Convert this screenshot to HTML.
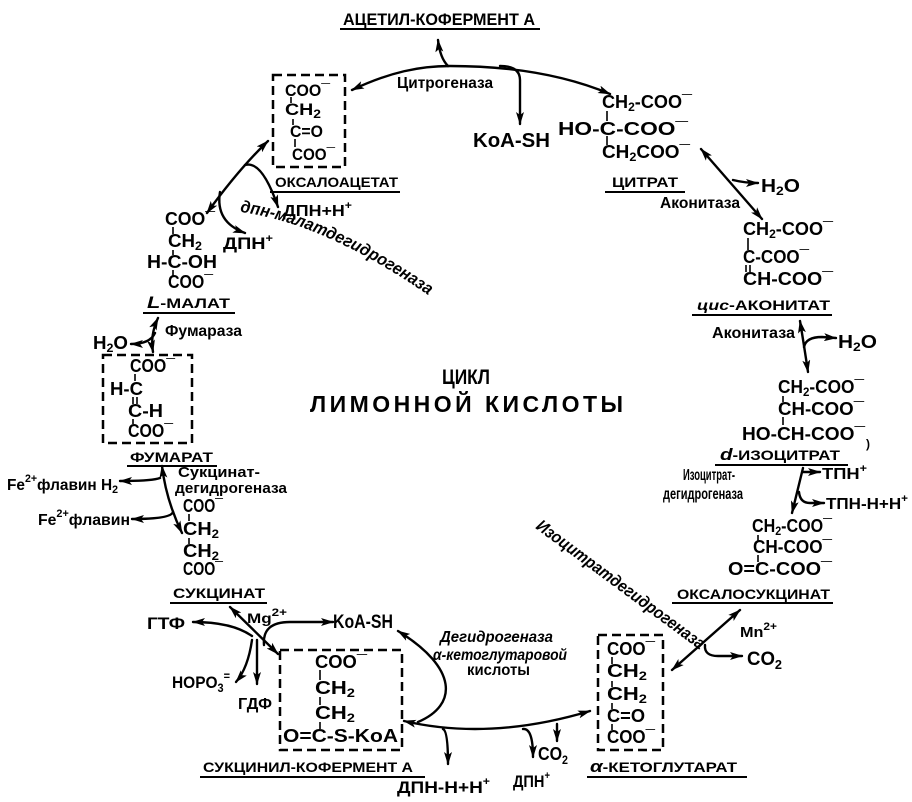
<!DOCTYPE html>
<html><head><meta charset="utf-8"><style>
html,body{margin:0;padding:0;background:#fff}
svg{display:block}
text{font-family:"Liberation Sans","DejaVu Sans",sans-serif;font-weight:bold;fill:#000}
.a{fill:none;stroke:#000;stroke-width:2.4;stroke-linecap:round}
.b{fill:none;stroke:#000;stroke-width:2.5;stroke-dasharray:9 5}
.u{stroke:#000;stroke-width:2}
.t{stroke:#000;stroke-width:1.6}
.i{font-style:italic}
</style></head><body>
<svg width="912" height="802" viewBox="0 0 912 802" xmlns="http://www.w3.org/2000/svg">
<defs><marker id="m" viewBox="0 0 13 8" refX="12" refY="4" markerWidth="13" markerHeight="8" markerUnits="userSpaceOnUse" orient="auto-start-reverse"><path d="M0,0 L13,4 L0,8 L3,4z" fill="#000"/></marker></defs>

<!-- TOP -->
<text x="343" y="25" font-size="17" textLength="192" lengthAdjust="spacingAndGlyphs">АЦЕТИЛ-КОФЕРМЕНТ А</text>
<line class="u" x1="340" y1="29" x2="540" y2="29"/>
<path class="a" d="M352,90 C390,72 420,66 450,66 C505,66 560,73 610,94" marker-start="url(#m)" marker-end="url(#m)"/>
<path class="a" d="M448,66 Q440,58 438,40" marker-end="url(#m)"/>
<path class="a" d="M500,66 Q520,66 520,80 L520,124" marker-end="url(#m)"/>
<text x="397" y="88" font-size="16" textLength="96" lengthAdjust="spacingAndGlyphs">Цитрогеназа</text>
<text x="473" y="147" font-size="20" textLength="77" lengthAdjust="spacingAndGlyphs">KoA-SH</text>

<!-- OXALOACETATE -->
<rect class="b" x="273" y="75" width="72" height="92"/>
<text x="285" y="96" font-size="17" textLength="45" lengthAdjust="spacingAndGlyphs">COO¯</text>
<text x="285" y="115" font-size="17" textLength="36" lengthAdjust="spacingAndGlyphs">CH<tspan font-size="12" dy="3">2</tspan></text>
<text x="290" y="137" font-size="17" textLength="33" lengthAdjust="spacingAndGlyphs">C=O</text>
<text x="292" y="160" font-size="17" textLength="43" lengthAdjust="spacingAndGlyphs">COO¯</text>
<line class="t" x1="291" y1="97" x2="291" y2="103"/>
<line class="t" x1="293" y1="119" x2="293" y2="125"/>
<line class="t" x1="295" y1="139" x2="295" y2="147"/>
<text x="275" y="187" font-size="14" textLength="123" lengthAdjust="spacingAndGlyphs">ОКСАЛОАЦЕТАТ</text>
<line class="u" x1="270" y1="192" x2="400" y2="192"/>

<!-- CITRATE -->
<text x="602" y="108" font-size="18" textLength="90" lengthAdjust="spacingAndGlyphs">CH<tspan font-size="12" dy="3">2</tspan><tspan dy="-3">-COO¯</tspan></text>
<text x="558" y="135" font-size="18" textLength="130" lengthAdjust="spacingAndGlyphs">HO-C-COO¯</text>
<text x="602" y="158" font-size="18" textLength="88" lengthAdjust="spacingAndGlyphs">CH<tspan font-size="12" dy="3">2</tspan><tspan dy="-3">COO¯</tspan></text>
<line class="t" x1="607" y1="111" x2="607" y2="121"/>
<line class="t" x1="607" y1="136" x2="607" y2="145"/>
<text x="612" y="187" font-size="14" textLength="66" lengthAdjust="spacingAndGlyphs">ЦИТРАТ</text>
<line class="u" x1="605" y1="192" x2="685" y2="192"/>

<!-- ACONITASE 1 -->
<path class="a" d="M701,149 L762,219" marker-start="url(#m)" marker-end="url(#m)"/>
<path class="a" d="M733,180 Q745,183 758,183" marker-end="url(#m)"/>
<text x="761" y="192" font-size="18" textLength="39" lengthAdjust="spacingAndGlyphs">H<tspan font-size="12" dy="3">2</tspan><tspan dy="-3">O</tspan></text>
<text x="660" y="208" font-size="16" textLength="80" lengthAdjust="spacingAndGlyphs">Аконитаза</text>

<!-- CIS-ACONITATE -->
<text x="743" y="235" font-size="18" textLength="90" lengthAdjust="spacingAndGlyphs">CH<tspan font-size="12" dy="3">2</tspan><tspan dy="-3">-COO¯</tspan></text>
<text x="743" y="263" font-size="18" textLength="66" lengthAdjust="spacingAndGlyphs">C-COO¯</text>
<text x="743" y="285" font-size="18" textLength="90" lengthAdjust="spacingAndGlyphs">CH-COO¯</text>
<line class="t" x1="748" y1="238" x2="748" y2="250"/>
<line class="t" x1="746" y1="265" x2="746" y2="272"/>
<line class="t" x1="750" y1="265" x2="750" y2="272"/>
<text x="697" y="310" font-size="14" textLength="133" lengthAdjust="spacingAndGlyphs"><tspan class="i">цис</tspan>-АКОНИТАТ</text>
<line class="u" x1="692" y1="315" x2="832" y2="315"/>

<!-- ACONITASE 2 -->
<text x="712" y="338" font-size="16" textLength="83" lengthAdjust="spacingAndGlyphs">Аконитаза</text>
<path class="a" d="M800,321 Q804,345 808,372" marker-start="url(#m)" marker-end="url(#m)"/>
<path class="a" d="M804,347 Q806,337 822,337 L836,338" marker-end="url(#m)"/>
<text x="838" y="348" font-size="18" textLength="39" lengthAdjust="spacingAndGlyphs">H<tspan font-size="12" dy="3">2</tspan><tspan dy="-3">O</tspan></text>

<!-- ISOCITRATE -->
<text x="778" y="393" font-size="18" textLength="86" lengthAdjust="spacingAndGlyphs">CH<tspan font-size="12" dy="3">2</tspan><tspan dy="-3">-COO¯</tspan></text>
<text x="778" y="415" font-size="18" textLength="86" lengthAdjust="spacingAndGlyphs">CH-COO¯</text>
<text x="742" y="440" font-size="18" textLength="123" lengthAdjust="spacingAndGlyphs">HO-CH-COO¯</text>
<line class="t" x1="783" y1="396" x2="783" y2="402"/>
<line class="t" x1="783" y1="417" x2="783" y2="425"/>
<text x="866" y="448" font-size="12">)</text>
<text x="720" y="460" font-size="14" textLength="120" lengthAdjust="spacingAndGlyphs"><tspan class="i" font-size="17">d</tspan>-ИЗОЦИТРАТ</text>
<line class="u" x1="715" y1="465" x2="848" y2="465"/>

<!-- ISOCITRATE DH -->
<text x="683" y="480" font-size="16" textLength="52" lengthAdjust="spacingAndGlyphs">Изоцитрат-</text>
<text x="663" y="499" font-size="16" textLength="80" lengthAdjust="spacingAndGlyphs">дегидрогеназа</text>
<path class="a" d="M803,468 L792,513" marker-end="url(#m)"/>
<path class="a" d="M803,472 L820,472" marker-end="url(#m)"/>
<text x="822" y="479" font-size="16" textLength="45" lengthAdjust="spacingAndGlyphs">ТПН<tspan font-size="11" dy="-7">+</tspan></text>
<path class="a" d="M799,492 Q800,503 810,503 L824,503" marker-end="url(#m)"/>
<text x="826" y="509" font-size="16" textLength="82" lengthAdjust="spacingAndGlyphs">ТПН-Н+Н<tspan font-size="11" dy="-7">+</tspan></text>

<!-- OXALOSUCCINATE -->
<text x="752" y="532" font-size="18" textLength="80" lengthAdjust="spacingAndGlyphs">CH<tspan font-size="12" dy="3">2</tspan><tspan dy="-3">-COO¯</tspan></text>
<text x="753" y="553" font-size="18" textLength="79" lengthAdjust="spacingAndGlyphs">CH-COO¯</text>
<text x="728" y="575" font-size="18" textLength="104" lengthAdjust="spacingAndGlyphs">O=C-COO¯</text>
<line class="t" x1="758" y1="535" x2="758" y2="541"/>
<line class="t" x1="758" y1="555" x2="758" y2="562"/>
<text x="677" y="599" font-size="14" textLength="153" lengthAdjust="spacingAndGlyphs">ОКСАЛОСУКЦИНАТ</text>
<line class="u" x1="672" y1="603" x2="833" y2="603"/>

<!-- DIAGONAL ISOCITRATE DH -->
<text class="i" font-size="17" transform="translate(535,528) rotate(36.5)" textLength="205" lengthAdjust="spacingAndGlyphs">Изоцитратдегидрогеназа</text>

<path class="a" d="M740,610 L672,670" marker-start="url(#m)" marker-end="url(#m)"/>
<path class="a" d="M705,645 Q704,656 718,656 L742,656" marker-end="url(#m)"/>
<text x="740" y="637" font-size="15" textLength="37" lengthAdjust="spacingAndGlyphs">Mn<tspan font-size="11" dy="-7">2+</tspan></text>
<text x="747" y="665" font-size="19" textLength="35" lengthAdjust="spacingAndGlyphs">CO<tspan font-size="13" dy="4">2</tspan></text>

<!-- ALPHA-KG -->
<rect class="b" x="598" y="635" width="65" height="115"/>
<text x="607" y="655" font-size="18" textLength="48" lengthAdjust="spacingAndGlyphs">COO¯</text>
<text x="607" y="677" font-size="18" textLength="40" lengthAdjust="spacingAndGlyphs">CH<tspan font-size="12" dy="3">2</tspan></text>
<text x="607" y="700" font-size="18" textLength="40" lengthAdjust="spacingAndGlyphs">CH<tspan font-size="12" dy="3">2</tspan></text>
<text x="607" y="722" font-size="18" textLength="38" lengthAdjust="spacingAndGlyphs">C=O</text>
<text x="607" y="743" font-size="18" textLength="48" lengthAdjust="spacingAndGlyphs">COO¯</text>
<line class="t" x1="612" y1="657" x2="612" y2="664"/>
<line class="t" x1="612" y1="681" x2="612" y2="687"/>
<line class="t" x1="612" y1="703" x2="612" y2="709"/>
<line class="t" x1="612" y1="724" x2="612" y2="730"/>
<text x="590" y="772" font-size="14" textLength="147" lengthAdjust="spacingAndGlyphs"><tspan class="i" font-size="17">α</tspan>-КЕТОГЛУТАРАТ</text>
<line class="u" x1="587" y1="777" x2="747" y2="777"/>

<!-- ALPHA-KG DH -->
<path class="a" d="M404,721 Q490,741 590,711" marker-start="url(#m)" marker-end="url(#m)"/>
<path class="a" d="M443,729 Q448,731 448,764" marker-end="url(#m)"/>
<path class="a" d="M523,729 Q533,728 533,757" marker-end="url(#m)"/>
<path class="a" d="M557,724 L557,741" marker-end="url(#m)"/>
<path class="a" d="M418,722 C458,705 458,668 398,631" marker-end="url(#m)"/>
<text x="538" y="760" font-size="18" textLength="30" lengthAdjust="spacingAndGlyphs">CO<tspan font-size="12" dy="4">2</tspan></text>
<text x="513" y="787" font-size="17" textLength="37" lengthAdjust="spacingAndGlyphs">ДПН<tspan font-size="11" dy="-8">+</tspan></text>
<text x="397" y="793" font-size="17" textLength="93" lengthAdjust="spacingAndGlyphs">ДПН-Н+Н<tspan font-size="11" dy="-8">+</tspan></text>
<text class="i" x="440" y="642" font-size="16" textLength="113" lengthAdjust="spacingAndGlyphs">Дегидрогеназа</text>
<text class="i" x="433" y="660" font-size="16" textLength="134" lengthAdjust="spacingAndGlyphs">α-кетоглутаровой</text>
<text x="467" y="675" font-size="16" textLength="63" lengthAdjust="spacingAndGlyphs">кислоты</text>
<text x="333" y="628" font-size="19" textLength="60" lengthAdjust="spacingAndGlyphs">KoA-SH</text>

<!-- SUCCINYL-COA -->
<rect class="b" x="280" y="650" width="122" height="100"/>
<text x="315" y="668" font-size="18" textLength="52" lengthAdjust="spacingAndGlyphs">COO¯</text>
<text x="315" y="694" font-size="18" textLength="40" lengthAdjust="spacingAndGlyphs">CH<tspan font-size="12" dy="3">2</tspan></text>
<text x="315" y="719" font-size="18" textLength="40" lengthAdjust="spacingAndGlyphs">CH<tspan font-size="12" dy="3">2</tspan></text>
<text x="283" y="742" font-size="18" textLength="115" lengthAdjust="spacingAndGlyphs">O=C-S-KoA</text>
<line class="t" x1="320" y1="670" x2="320" y2="680"/>
<line class="t" x1="320" y1="697" x2="320" y2="705"/>
<line class="t" x1="320" y1="722" x2="320" y2="729"/>
<text x="203" y="772" font-size="14" textLength="210" lengthAdjust="spacingAndGlyphs">СУКЦИНИЛ-КОФЕРМЕНТ А</text>
<line class="u" x1="200" y1="777" x2="425" y2="777"/>

<!-- SUCCINYL-COA SYNTHETASE -->
<path class="a" d="M230,607 L278,654" marker-start="url(#m)" marker-end="url(#m)"/>
<path class="a" d="M252,636 Q232,622 193,622" marker-end="url(#m)"/>
<path class="a" d="M252,640 Q248,668 236,682" marker-end="url(#m)"/>
<path class="a" d="M257,640 L257,684" marker-end="url(#m)"/>
<path class="a" d="M264,645 Q262,622 290,622 L333,622" marker-end="url(#m)"/>
<text x="247" y="623" font-size="14" textLength="40" lengthAdjust="spacingAndGlyphs">Mg<tspan font-size="11" dy="-7">2+</tspan></text>
<text x="147" y="629" font-size="17" textLength="38" lengthAdjust="spacingAndGlyphs">ГТФ</text>
<text x="172" y="688" font-size="17" textLength="58" lengthAdjust="spacingAndGlyphs">HOPO<tspan font-size="12" dy="4">3</tspan><tspan font-size="12" dy="-12">=</tspan></text>
<text x="238" y="709" font-size="16" textLength="34" lengthAdjust="spacingAndGlyphs">ГДФ</text>

<!-- SUCCINATE -->
<text x="183" y="512" font-size="18" textLength="40" lengthAdjust="spacingAndGlyphs">COO¯</text>
<text x="183" y="535" font-size="18" textLength="36" lengthAdjust="spacingAndGlyphs">CH<tspan font-size="12" dy="3">2</tspan></text>
<text x="183" y="557" font-size="18" textLength="36" lengthAdjust="spacingAndGlyphs">CH<tspan font-size="12" dy="3">2</tspan></text>
<text x="183" y="575" font-size="18" textLength="40" lengthAdjust="spacingAndGlyphs">COO¯</text>
<line class="t" x1="189" y1="514" x2="189" y2="521"/>
<line class="t" x1="189" y1="538" x2="189" y2="544"/>
<text x="173" y="598" font-size="14" textLength="92" lengthAdjust="spacingAndGlyphs">СУКЦИНАТ</text>
<line class="u" x1="170" y1="603" x2="267" y2="603"/>

<!-- SDH -->
<path class="a" d="M162,466 Q166,500 182,533" marker-start="url(#m)" marker-end="url(#m)"/>
<path class="a" d="M160,478 Q152,481 120,481" marker-end="url(#m)"/>
<path class="a" d="M173,512 Q171,519 132,519" marker-end="url(#m)"/>
<text x="7" y="490" font-size="16" textLength="111" lengthAdjust="spacingAndGlyphs">Fe<tspan font-size="11" dy="-8">2+</tspan><tspan dy="8">флавин H</tspan><tspan font-size="11" dy="3">2</tspan></text>
<text x="38" y="525" font-size="16" textLength="92" lengthAdjust="spacingAndGlyphs">Fe<tspan font-size="11" dy="-8">2+</tspan><tspan dy="8">флавин</tspan></text>
<text x="178" y="477" font-size="15" textLength="82" lengthAdjust="spacingAndGlyphs">Сукцинат-</text>
<text x="175" y="493" font-size="15" textLength="112" lengthAdjust="spacingAndGlyphs">дегидрогеназа</text>

<!-- FUMARATE -->
<text x="130" y="462" font-size="14" textLength="83" lengthAdjust="spacingAndGlyphs">ФУМАРАТ</text>
<line class="u" x1="127" y1="466" x2="217" y2="466"/>
<rect class="b" x="103" y="355" width="89" height="88"/>
<text x="130" y="372" font-size="18" textLength="45" lengthAdjust="spacingAndGlyphs">COO¯</text>
<text x="110" y="395" font-size="18" textLength="33" lengthAdjust="spacingAndGlyphs">H-C</text>
<text x="128" y="417" font-size="18" textLength="35" lengthAdjust="spacingAndGlyphs">C-H</text>
<text x="128" y="437" font-size="18" textLength="45" lengthAdjust="spacingAndGlyphs">COO¯</text>
<line class="t" x1="135" y1="374" x2="135" y2="381"/>
<line class="t" x1="133" y1="397" x2="133" y2="404"/>
<line class="t" x1="137" y1="397" x2="137" y2="404"/>
<line class="t" x1="133" y1="419" x2="133" y2="424"/>

<!-- FUMARASE -->
<path class="a" d="M158,318 Q150,335 153,352" marker-start="url(#m)" marker-end="url(#m)"/>
<path class="a" d="M155,333 Q150,344 131,344" marker-end="url(#m)"/>
<text x="165" y="336" font-size="16" textLength="77" lengthAdjust="spacingAndGlyphs">Фумараза</text>
<text x="93" y="349" font-size="18" textLength="35" lengthAdjust="spacingAndGlyphs">H<tspan font-size="12" dy="3">2</tspan><tspan dy="-3">O</tspan></text>

<!-- L-MALATE -->
<text x="165" y="225" font-size="18" textLength="50" lengthAdjust="spacingAndGlyphs">COO¯</text>
<text x="168" y="247" font-size="18" textLength="34" lengthAdjust="spacingAndGlyphs">CH<tspan font-size="12" dy="3">2</tspan></text>
<text x="147" y="268" font-size="18" textLength="70" lengthAdjust="spacingAndGlyphs">H-C-OH</text>
<text x="168" y="288" font-size="18" textLength="45" lengthAdjust="spacingAndGlyphs">COO¯</text>
<line class="t" x1="173" y1="227" x2="173" y2="234"/>
<line class="t" x1="173" y1="250" x2="173" y2="255"/>
<line class="t" x1="173" y1="270" x2="173" y2="276"/>
<text x="147" y="308" font-size="14" textLength="83" lengthAdjust="spacingAndGlyphs"><tspan class="i" font-size="17">L</tspan>-МАЛАТ</text>
<line class="u" x1="143" y1="313" x2="235" y2="313"/>

<!-- MDH -->
<path class="a" d="M207,213 Q238,170 268,141" marker-start="url(#m)" marker-end="url(#m)"/>
<path class="a" d="M245,165 Q262,160 278,207" marker-end="url(#m)"/>
<path class="a" d="M220,192 Q215,222 245,233" marker-end="url(#m)"/>
<text x="283" y="216" font-size="16" textLength="69" lengthAdjust="spacingAndGlyphs">ДПН+Н<tspan font-size="11" dy="-7">+</tspan></text>
<text x="223" y="249" font-size="17" textLength="50" lengthAdjust="spacingAndGlyphs">ДПН<tspan font-size="11" dy="-7">+</tspan></text>
<path id="dp" d="M240,212 Q335,224 460,318" fill="none"/>
<text class="i" font-size="17"><textPath href="#dp" textLength="208" lengthAdjust="spacingAndGlyphs">дпн-малатдегидрогеназа</textPath></text>

<!-- CENTER -->
<text x="442" y="384" font-size="21" textLength="48" lengthAdjust="spacingAndGlyphs">ЦИКЛ</text>
<text x="310" y="412" font-size="23" textLength="313" lengthAdjust="spacing">ЛИМОННОЙ КИСЛОТЫ</text>
</svg>
</body></html>
